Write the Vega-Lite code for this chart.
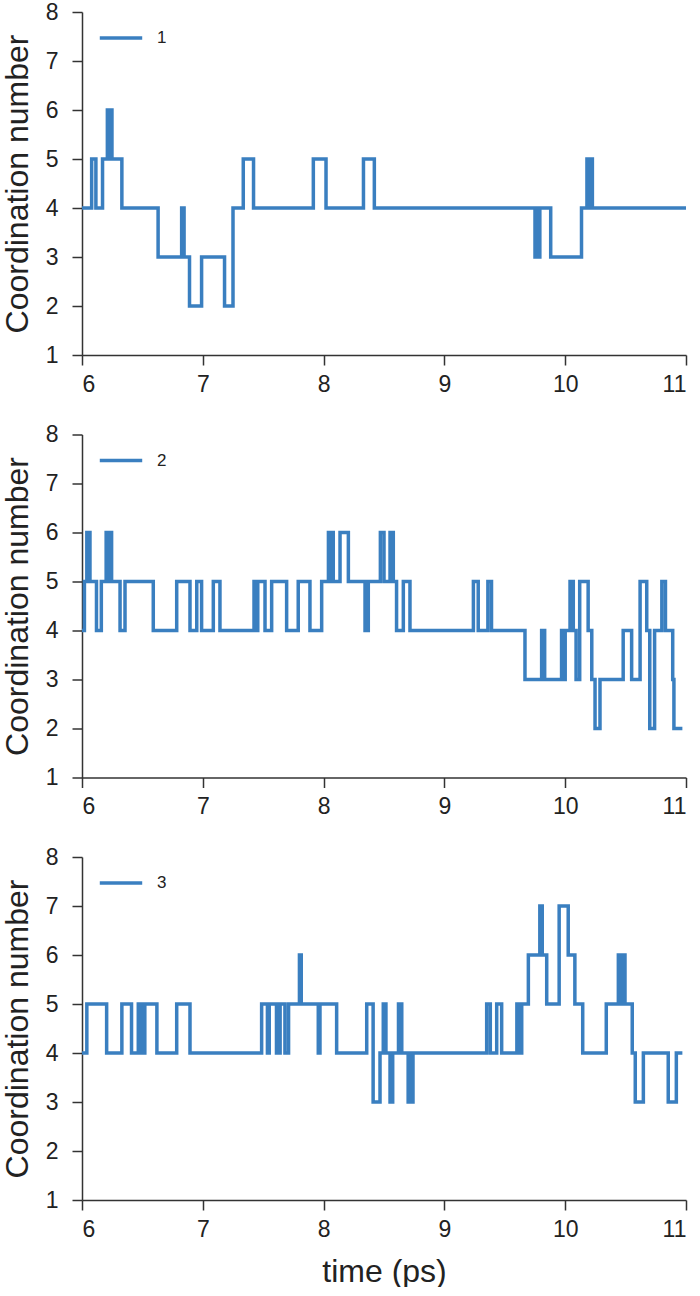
{
  "$schema": "https://vega.github.io/schema/vega-lite/v6.json",
  "padding": {"left": 1, "top": 1, "right": 4, "bottom": 0},
  "background": "white",
  "config": {
    "font": "Liberation Sans",
    "view": {"stroke": null},
    "axis": {
      "grid": false,
      "domainColor": "#333333",
      "domainWidth": 1.5,
      "tickColor": "#333333",
      "tickWidth": 1.5,
      "tickSize": 10,
      "labelFontSize": 23,
      "labelColor": "#222222",
      "titleFontSize": 32,
      "titleFontWeight": "normal",
      "titleColor": "#222222",
      "labelPadding": 8
    },
    "axisY": {"labelPadding": 14, "titlePadding": 11},
    "axisX": {"titlePadding": 15},
    "legend": {
      "symbolType": "stroke",
      "symbolSize": 1800,
      "symbolStrokeWidth": 3.5,
      "labelFontSize": 17,
      "labelColor": "#222222",
      "labelOffset": 13
    }
  },
  "datasets": {
    "cn": [
      {"p": "1", "t": 6.0, "v": 4}, {"p": "1", "t": 6.08, "v": 5}, {"p": "1", "t": 6.115, "v": 4}, {"p": "1", "t": 6.17, "v": 5},
      {"p": "1", "t": 6.21, "v": 6}, {"p": "1", "t": 6.225, "v": 5}, {"p": "1", "t": 6.232, "v": 6}, {"p": "1", "t": 6.248, "v": 5},
      {"p": "1", "t": 6.33, "v": 4}, {"p": "1", "t": 6.63, "v": 3}, {"p": "1", "t": 6.825, "v": 4}, {"p": "1", "t": 6.845, "v": 3},
      {"p": "1", "t": 6.89, "v": 2}, {"p": "1", "t": 6.99, "v": 3}, {"p": "1", "t": 7.18, "v": 2}, {"p": "1", "t": 7.25, "v": 4},
      {"p": "1", "t": 7.335, "v": 5}, {"p": "1", "t": 7.42, "v": 4}, {"p": "1", "t": 7.915, "v": 5}, {"p": "1", "t": 8.02, "v": 4},
      {"p": "1", "t": 8.33, "v": 5}, {"p": "1", "t": 8.42, "v": 4}, {"p": "1", "t": 9.75, "v": 3}, {"p": "1", "t": 9.765, "v": 4},
      {"p": "1", "t": 9.775, "v": 3}, {"p": "1", "t": 9.79, "v": 4}, {"p": "1", "t": 9.88, "v": 3}, {"p": "1", "t": 10.135, "v": 4},
      {"p": "1", "t": 10.18, "v": 5}, {"p": "1", "t": 10.195, "v": 4}, {"p": "1", "t": 10.205, "v": 5}, {"p": "1", "t": 10.225, "v": 4},
      {"p": "1", "t": 11.0, "v": 4},

      {"p": "2", "t": 6.0, "v": 4}, {"p": "2", "t": 6.02, "v": 5}, {"p": "2", "t": 6.04, "v": 6}, {"p": "2", "t": 6.066, "v": 5},
      {"p": "2", "t": 6.12, "v": 4}, {"p": "2", "t": 6.16, "v": 5}, {"p": "2", "t": 6.2, "v": 6}, {"p": "2", "t": 6.215, "v": 5},
      {"p": "2", "t": 6.225, "v": 6}, {"p": "2", "t": 6.245, "v": 5}, {"p": "2", "t": 6.315, "v": 4}, {"p": "2", "t": 6.356, "v": 5},
      {"p": "2", "t": 6.59, "v": 4}, {"p": "2", "t": 6.784, "v": 5}, {"p": "2", "t": 6.894, "v": 4}, {"p": "2", "t": 6.95, "v": 5},
      {"p": "2", "t": 6.99, "v": 4}, {"p": "2", "t": 7.087, "v": 5}, {"p": "2", "t": 7.142, "v": 4}, {"p": "2", "t": 7.424, "v": 5},
      {"p": "2", "t": 7.44, "v": 4}, {"p": "2", "t": 7.455, "v": 5}, {"p": "2", "t": 7.515, "v": 4}, {"p": "2", "t": 7.57, "v": 5},
      {"p": "2", "t": 7.694, "v": 4}, {"p": "2", "t": 7.79, "v": 5}, {"p": "2", "t": 7.887, "v": 4}, {"p": "2", "t": 7.984, "v": 5},
      {"p": "2", "t": 8.04, "v": 6}, {"p": "2", "t": 8.055, "v": 5}, {"p": "2", "t": 8.065, "v": 6}, {"p": "2", "t": 8.08, "v": 5},
      {"p": "2", "t": 8.136, "v": 6}, {"p": "2", "t": 8.205, "v": 5}, {"p": "2", "t": 8.343, "v": 4}, {"p": "2", "t": 8.37, "v": 5},
      {"p": "2", "t": 8.47, "v": 6}, {"p": "2", "t": 8.5, "v": 5}, {"p": "2", "t": 8.55, "v": 6}, {"p": "2", "t": 8.577, "v": 5},
      {"p": "2", "t": 8.604, "v": 4}, {"p": "2", "t": 8.66, "v": 5}, {"p": "2", "t": 8.715, "v": 4}, {"p": "2", "t": 9.24, "v": 5},
      {"p": "2", "t": 9.28, "v": 4}, {"p": "2", "t": 9.36, "v": 5}, {"p": "2", "t": 9.39, "v": 4}, {"p": "2", "t": 9.667, "v": 3},
      {"p": "2", "t": 9.805, "v": 4}, {"p": "2", "t": 9.83, "v": 3}, {"p": "2", "t": 9.97, "v": 4}, {"p": "2", "t": 9.985, "v": 3},
      {"p": "2", "t": 10.0, "v": 4}, {"p": "2", "t": 10.04, "v": 5}, {"p": "2", "t": 10.067, "v": 4}, {"p": "2", "t": 10.09, "v": 3},
      {"p": "2", "t": 10.12, "v": 5}, {"p": "2", "t": 10.19, "v": 4}, {"p": "2", "t": 10.22, "v": 3}, {"p": "2", "t": 10.247, "v": 2},
      {"p": "2", "t": 10.288, "v": 3}, {"p": "2", "t": 10.48, "v": 4}, {"p": "2", "t": 10.55, "v": 3}, {"p": "2", "t": 10.62, "v": 5},
      {"p": "2", "t": 10.675, "v": 4}, {"p": "2", "t": 10.7, "v": 2}, {"p": "2", "t": 10.74, "v": 4}, {"p": "2", "t": 10.8, "v": 5},
      {"p": "2", "t": 10.83, "v": 4}, {"p": "2", "t": 10.89, "v": 3}, {"p": "2", "t": 10.9, "v": 2}, {"p": "2", "t": 10.97, "v": 2},

      {"p": "3", "t": 6.0, "v": 4}, {"p": "3", "t": 6.04, "v": 5}, {"p": "3", "t": 6.204, "v": 4}, {"p": "3", "t": 6.33, "v": 5},
      {"p": "3", "t": 6.41, "v": 4}, {"p": "3", "t": 6.466, "v": 5}, {"p": "3", "t": 6.48, "v": 4}, {"p": "3", "t": 6.5, "v": 5},
      {"p": "3", "t": 6.51, "v": 4}, {"p": "3", "t": 6.52, "v": 5}, {"p": "3", "t": 6.62, "v": 4}, {"p": "3", "t": 6.784, "v": 5},
      {"p": "3", "t": 6.894, "v": 4}, {"p": "3", "t": 7.487, "v": 5}, {"p": "3", "t": 7.535, "v": 4}, {"p": "3", "t": 7.55, "v": 5},
      {"p": "3", "t": 7.61, "v": 4}, {"p": "3", "t": 7.625, "v": 5}, {"p": "3", "t": 7.635, "v": 4}, {"p": "3", "t": 7.64, "v": 5},
      {"p": "3", "t": 7.68, "v": 4}, {"p": "3", "t": 7.71, "v": 5}, {"p": "3", "t": 7.8, "v": 6}, {"p": "3", "t": 7.815, "v": 5},
      {"p": "3", "t": 7.956, "v": 4}, {"p": "3", "t": 7.97, "v": 5}, {"p": "3", "t": 8.108, "v": 4}, {"p": "3", "t": 8.357, "v": 5},
      {"p": "3", "t": 8.41, "v": 3}, {"p": "3", "t": 8.467, "v": 4}, {"p": "3", "t": 8.494, "v": 5}, {"p": "3", "t": 8.516, "v": 4},
      {"p": "3", "t": 8.55, "v": 3}, {"p": "3", "t": 8.572, "v": 4}, {"p": "3", "t": 8.62, "v": 5}, {"p": "3", "t": 8.647, "v": 4},
      {"p": "3", "t": 8.7, "v": 3}, {"p": "3", "t": 8.715, "v": 4}, {"p": "3", "t": 8.725, "v": 3}, {"p": "3", "t": 8.74, "v": 4},
      {"p": "3", "t": 9.35, "v": 5}, {"p": "3", "t": 9.38, "v": 4}, {"p": "3", "t": 9.433, "v": 5}, {"p": "3", "t": 9.474, "v": 4},
      {"p": "3", "t": 9.6, "v": 5}, {"p": "3", "t": 9.625, "v": 4}, {"p": "3", "t": 9.64, "v": 5}, {"p": "3", "t": 9.695, "v": 6},
      {"p": "3", "t": 9.79, "v": 7}, {"p": "3", "t": 9.81, "v": 6}, {"p": "3", "t": 9.847, "v": 5}, {"p": "3", "t": 9.95, "v": 7},
      {"p": "3", "t": 10.025, "v": 6}, {"p": "3", "t": 10.08, "v": 5}, {"p": "3", "t": 10.145, "v": 4}, {"p": "3", "t": 10.34, "v": 5},
      {"p": "3", "t": 10.44, "v": 6}, {"p": "3", "t": 10.46, "v": 5}, {"p": "3", "t": 10.47, "v": 6}, {"p": "3", "t": 10.495, "v": 5},
      {"p": "3", "t": 10.555, "v": 4}, {"p": "3", "t": 10.58, "v": 3}, {"p": "3", "t": 10.647, "v": 4}, {"p": "3", "t": 10.853, "v": 3},
      {"p": "3", "t": 10.92, "v": 4}, {"p": "3", "t": 10.97, "v": 4}
    ]
  },
  "data": {"name": "cn"},
  "spacing": 27.5,
  "resolve": {"scale": {"color": "independent"}},
  "vconcat": [
    {
      "width": 604, "height": 343,
      "transform": [{"filter": "datum.p === '1'"}],
      "mark": {"type": "line", "interpolate": "step-after", "strokeWidth": 3.5},
      "encoding": {
        "x": {"field": "t", "type": "quantitative", "scale": {"domain": [6, 11], "nice": false}, "axis": {"values": [6, 7, 8, 9, 10, 11], "title": null}},
        "y": {"field": "v", "type": "quantitative", "scale": {"domain": [1, 8], "nice": false}, "axis": {"values": [1, 2, 3, 4, 5, 6, 7, 8], "title": "Coordination number"}},
        "color": {"field": "p", "type": "nominal", "scale": {"range": ["#3a7fc0"]}, "legend": {"title": null, "orient": "none", "legendX": 16, "legendY": 3}}
      }
    },
    {
      "width": 604, "height": 343,
      "transform": [{"filter": "datum.p === '2'"}],
      "mark": {"type": "line", "interpolate": "step-after", "strokeWidth": 3.5},
      "encoding": {
        "x": {"field": "t", "type": "quantitative", "scale": {"domain": [6, 11], "nice": false}, "axis": {"values": [6, 7, 8, 9, 10, 11], "title": null}},
        "y": {"field": "v", "type": "quantitative", "scale": {"domain": [1, 8], "nice": false}, "axis": {"values": [1, 2, 3, 4, 5, 6, 7, 8], "title": "Coordination number"}},
        "color": {"field": "p", "type": "nominal", "scale": {"range": ["#3a7fc0"]}, "legend": {"title": null, "orient": "none", "legendX": 16, "legendY": 3}}
      }
    },
    {
      "width": 604, "height": 343,
      "transform": [{"filter": "datum.p === '3'"}],
      "mark": {"type": "line", "interpolate": "step-after", "strokeWidth": 3.5},
      "encoding": {
        "x": {"field": "t", "type": "quantitative", "scale": {"domain": [6, 11], "nice": false}, "axis": {"values": [6, 7, 8, 9, 10, 11], "title": "time (ps)"}},
        "y": {"field": "v", "type": "quantitative", "scale": {"domain": [1, 8], "nice": false}, "axis": {"values": [1, 2, 3, 4, 5, 6, 7, 8], "title": "Coordination number"}},
        "color": {"field": "p", "type": "nominal", "scale": {"range": ["#3a7fc0"]}, "legend": {"title": null, "orient": "none", "legendX": 16, "legendY": 3}}
      }
    }
  ]
}
